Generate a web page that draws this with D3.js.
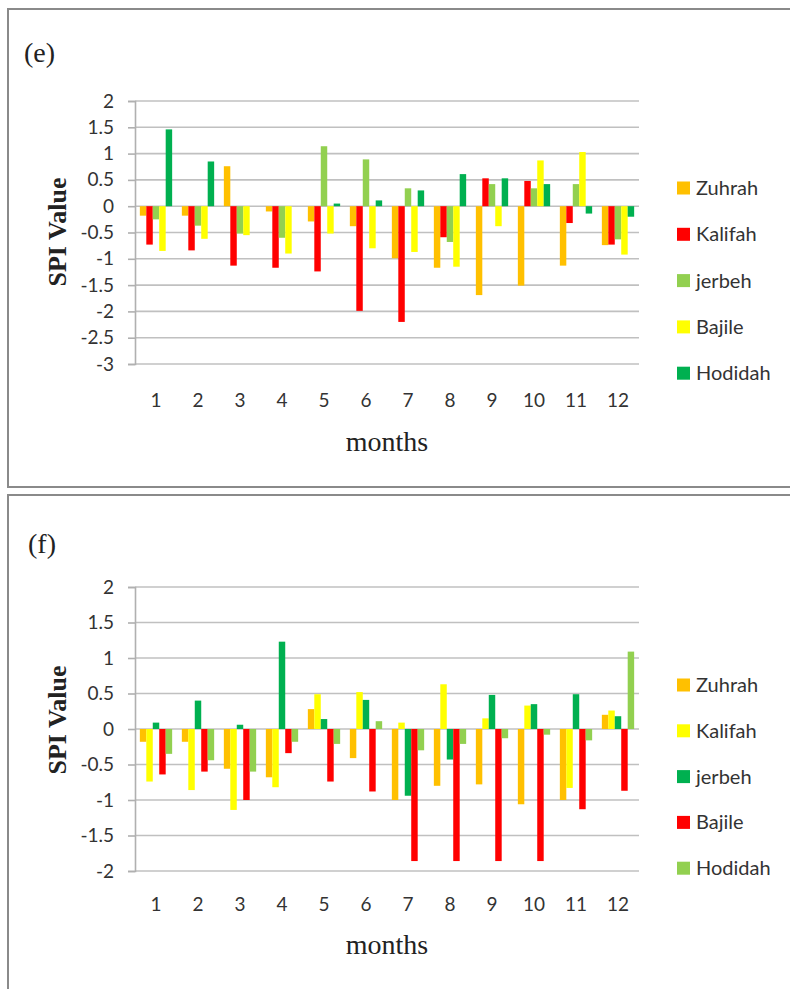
<!DOCTYPE html>
<html>
<head>
<meta charset="utf-8">
<script src="https://cdn.jsdelivr.net/npm/d3@7"></script>
<style>
  html, body { margin: 0; padding: 0; background: #ffffff; }
  svg { display: block; }
</style>
</head>
<body>
<svg id="chart" width="790" height="989"></svg>
<script>
// ---------- DATA ----------
const months = ["1","2","3","4","5","6","7","8","9","10","11","12"];
const seriesNames = ["Zuhrah","Kalifah","jerbeh","Bajile","Hodidah"];

// Panel (e)
const zuhrahE  = [-0.18,-0.18, 0.76,-0.10,-0.29,-0.38,-0.99,-1.17,-1.69,-1.51,-1.13,-0.74];
const kalifahE = [-0.73,-0.84,-1.13,-1.17,-1.24,-1.99,-2.20,-0.59, 0.53, 0.48,-0.32,-0.73];
const jerbehE  = [-0.25,-0.37,-0.52,-0.60, 1.14, 0.89, 0.34,-0.68, 0.42, 0.34, 0.42,-0.63];
const bajileE  = [-0.85,-0.62,-0.55,-0.90,-0.52,-0.80,-0.87,-1.15,-0.38, 0.87, 1.03,-0.92];
const hodidahE = [ 1.46, 0.85, 0.00, 0.00, 0.05, 0.11, 0.30, 0.61, 0.53, 0.42,-0.14,-0.20];
const colorsE  = ["#FFC000","#FF0000","#92D050","#FFFF00","#00B050"];
const ticksE   = [2,1.5,1,0.5,0,-0.5,-1,-1.5,-2,-2.5,-3];

// Panel (f)
const zuhrahF  = [-0.18,-0.18,-0.56,-0.68, 0.28,-0.41,-1.00,-0.80,-0.78,-1.06,-1.00, 0.20];
const kalifahF = [-0.74,-0.86,-1.14,-0.82, 0.49, 0.52, 0.09, 0.63, 0.15, 0.33,-0.83, 0.26];
const jerbehF  = [ 0.09, 0.40, 0.06, 1.23, 0.14, 0.41,-0.94,-0.43, 0.48, 0.35, 0.49, 0.18];
const bajileF  = [-0.64,-0.60,-1.00,-0.34,-0.74,-0.88,-1.86,-1.86,-1.86,-1.86,-1.13,-0.87];
const hodidahF = [-0.35,-0.44,-0.60,-0.18,-0.21, 0.11,-0.30,-0.21,-0.13,-0.08,-0.16, 1.09];
const colorsF  = ["#FFC000","#FFFF00","#00B050","#FF0000","#92D050"];
const ticksF   = [2,1.5,1,0.5,0,-0.5,-1,-1.5,-2];

// ---------- DRAW ----------
const svg = d3.select("#chart");
const sansFont = "Lato, 'Open Sans', sans-serif";
const serifFont = "'Liberation Serif', 'DejaVu Serif', serif";

function drawPanel(o) {
  const g = svg.append("g");
  // frame
  g.append("rect")
    .attr("x", o.frame[0]).attr("y", o.frame[1])
    .attr("width", o.frame[2]).attr("height", o.frame[3])
    .attr("fill", "#ffffff").attr("stroke", "#8a8a8a").attr("stroke-width", 2);

  g.append("text").attr("x", o.labelPos[0]).attr("y", o.labelPos[1])
    .attr("font-family", serifFont).attr("font-size", 28).attr("fill", "#222")
    .text(o.label);

  const x = d3.scaleBand().domain(months).range([o.left, o.right]).paddingInner(0).paddingOuter(0);
  const xs = d3.scaleBand().domain(seriesNames).range([0, x.bandwidth()]).paddingInner(0).paddingOuter(0.75);
  const y = d3.scaleLinear().domain(o.yDomain).range([o.bottom, o.top]);

  // gridlines
  g.append("g").selectAll("line").data(o.ticks).join("line")
    .attr("x1", o.left).attr("x2", o.right)
    .attr("y1", d => y(d)).attr("y2", d => y(d))
    .attr("stroke", "#c0c0c0").attr("stroke-width", 1.6);

  // y axis
  const yAxis = d3.axisLeft(y).tickValues(o.ticks).tickSize(7).tickPadding(14)
    .tickFormat(d => String(d));
  const ya = g.append("g").attr("transform", `translate(${o.left},0)`).call(yAxis);
  ya.select(".domain").attr("stroke", "#b0b0b0").attr("stroke-width", 1.6);
  ya.selectAll(".tick line").attr("stroke", "#b0b0b0").attr("stroke-width", 1.6);
  ya.selectAll(".tick text").attr("font-family", sansFont).attr("font-size", 19)
    .attr("fill", "#333");

  // x axis labels (no line)
  const xAxis = d3.axisBottom(x).tickSize(0).tickPadding(0);
  const xa = g.append("g").attr("transform", `translate(0,${o.xLabelY})`).call(xAxis);
  xa.select(".domain").remove();
  xa.selectAll(".tick text").attr("font-family", sansFont).attr("font-size", 19)
    .attr("fill", "#333").attr("dy", "0.32em");

  // bars
  o.series.forEach((vals, si) => {
    g.append("g").selectAll("rect").data(vals.map((v, i) => ({m: months[i], v})))
      .join("rect")
      .attr("x", d => x(d.m) + xs(seriesNames[si]))
      .attr("width", xs.bandwidth())
      .attr("y", d => y(Math.max(0, d.v)))
      .attr("height", d => Math.abs(y(d.v) - y(0)))
      .attr("fill", o.colors[si]);
  });

  // axis titles
  g.append("text")
    .attr("transform", `translate(${o.yTitleX},${o.yTitleY}) rotate(-90)`)
    .attr("text-anchor", "middle").attr("dy", "0.35em")
    .attr("font-family", serifFont).attr("font-weight", "bold").attr("font-size", 26)
    .attr("fill", "#222").text("SPI Value");
  g.append("text")
    .attr("x", (o.left + o.right) / 2).attr("y", o.monthsY)
    .attr("text-anchor", "middle")
    .attr("font-family", serifFont).attr("font-size", 28).attr("fill", "#222")
    .text("months");

  // legend
  const lg = g.append("g").selectAll("g").data(seriesNames).join("g")
    .attr("transform", (d, i) => `translate(${o.legendX},${o.legendY0 + i * o.legendStep})`);
  lg.append("rect").attr("x", 0).attr("y", -6.5).attr("width", 13).attr("height", 13)
    .attr("fill", (d, i) => o.colors[i]);
  lg.append("text").attr("x", 19).attr("y", 0).attr("dy", "0.35em")
    .attr("font-family", sansFont).attr("font-size", 20).attr("fill", "#333")
    .text(d => d);
}

drawPanel({
  frame: [8, 9, 800, 478],
  label: "(e)", labelPos: [24, 62],
  left: 135, right: 639, top: 101, bottom: 364,
  yDomain: [-3, 2], ticks: ticksE,
  series: [zuhrahE, kalifahE, jerbehE, bajileE, hodidahE],
  colors: colorsE,
  xLabelY: 401, monthsY: 451, yTitleX: 57, yTitleY: 232,
  legendX: 677, legendY0: 188, legendStep: 46.3
});

drawPanel({
  frame: [8, 495, 800, 520],
  label: "(f)", labelPos: [28, 553],
  left: 135, right: 639, top: 587, bottom: 871,
  yDomain: [-2, 2], ticks: ticksF,
  series: [zuhrahF, kalifahF, jerbehF, bajileF, hodidahF],
  colors: colorsF,
  xLabelY: 905, monthsY: 954, yTitleX: 57, yTitleY: 720,
  legendX: 677, legendY0: 685, legendStep: 45.8
});
</script>
</body>
</html>
